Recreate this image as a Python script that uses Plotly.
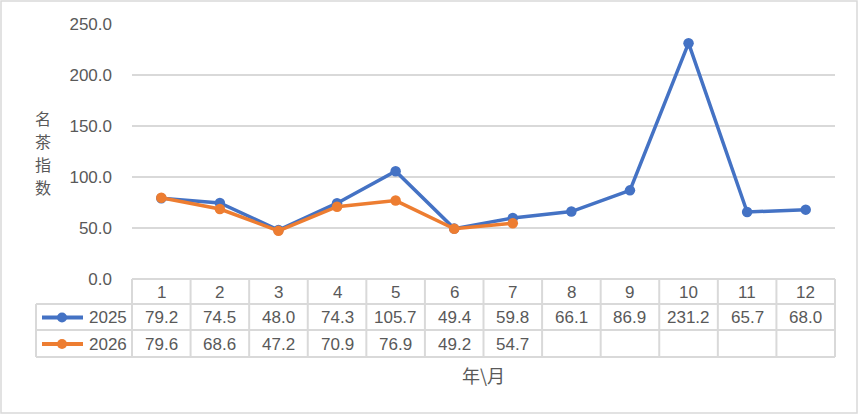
import plotly.graph_objects as go

months = [str(m) for m in range(1, 13)]
series_names = ["2025", "2026"]
values_2025 = [79.2, 74.5, 48.0, 74.3, 105.7, 49.4, 59.8, 66.1, 86.9, 231.2, 65.7, 68.0]
values_2026 = [79.6, 68.6, 47.2, 70.9, 76.9, 49.2, 54.7]
y_ticks = [0, 50, 100, 150, 200, 250]
y_title = "名茶指数"
x_title = "年\\月"

colors = ["#4472C4", "#ED7D31"]
grid = "#D9D9D9"
text_col = "#595959"
font_main = "Liberation Sans, Arial, sans-serif"
font_cjk = "Noto Sans CJK SC, sans-serif"

W, H = 859, 415
L, R, T, B = 132, 835, 24, 279  # plot area in pixels


def px(x):
    return (x - L) / (R - L)


def py(y):
    return (B - y) / (B - T)


fig = go.Figure()

for name, vals, col in zip(series_names, [values_2025, values_2026], colors):
    fig.add_trace(
        go.Scatter(
            x=list(range(1, len(vals) + 1)),
            y=vals,
            mode="lines+markers",
            name=name,
            line=dict(color=col, width=3.5),
            marker=dict(color=col, size=10.5),
        )
    )

shapes = []
annotations = []


def label(x, y, text, font, xref="paper", xanchor="center"):
    annotations.append(dict(x=x, y=y, xref=xref, yref="paper", text=text,
                            xanchor=xanchor, yanchor="middle", borderpad=0,
                            showarrow=False, font=font))


# table grid
rows_y = [279, 304, 330, 357]
line_style = dict(color=grid, width=2)
for y in rows_y[1:]:
    shapes.append(dict(type="line", xref="paper", yref="paper",
                       x0=px(36), x1=px(R), y0=py(y), y1=py(y), line=line_style))
shapes.append(dict(type="line", xref="paper", yref="paper",
                   x0=px(L), x1=px(R), y0=py(rows_y[0]), y1=py(rows_y[0]), line=line_style))
shapes.append(dict(type="line", xref="paper", yref="paper",
                   x0=px(36), x1=px(36), y0=py(rows_y[1]), y1=py(rows_y[3]), line=line_style))
for i in range(13):
    xb = L + (R - L) * i / 12
    shapes.append(dict(type="line", xref="paper", yref="paper",
                       x0=px(xb), x1=px(xb), y0=py(rows_y[0]), y1=py(rows_y[3]), line=line_style))

cell_font = dict(size=17, color=text_col, family=font_main)

# header row (month labels)
for i, m in enumerate(months):
    label(i + 1, py(292), m, cell_font, xref="x")

# value rows
for r, vals in enumerate([values_2025, values_2026]):
    yc = (rows_y[r + 1] + rows_y[r + 2]) / 2 + 0.5
    for i, v in enumerate(vals):
        label(i + 1, py(yc), f"{v:.1f}", cell_font, xref="x")
    # legend key
    shapes.append(dict(type="line", xref="paper", yref="paper",
                       x0=px(42), x1=px(83), y0=py(yc), y1=py(yc),
                       line=dict(color=colors[r], width=4)))
    shapes.append(dict(type="circle", xref="paper", yref="paper",
                       x0=px(57), x1=px(67), y0=py(yc + 5), y1=py(yc - 5),
                       fillcolor=colors[r], line=dict(color=colors[r], width=0)))
    label(px(128), py(yc), series_names[r], cell_font, xanchor="right")

# outer chart border
shapes.append(dict(type="rect", xref="paper", yref="paper",
                   x0=px(1), x1=px(857), y0=py(1), y1=py(413),
                   line=dict(color=grid, width=1.5)))

# axis titles (vertical stacked characters)
for k, ch in enumerate(y_title):
    label(px(43), py(118 + 23 * k), ch, dict(size=16, color=text_col, family=font_cjk))
label(px(483), py(375), x_title, dict(size=18, color=text_col, family=font_cjk))

fig.update_layout(
    width=W,
    height=H,
    margin=dict(l=L, r=W - R, t=T, b=H - B),
    paper_bgcolor="white",
    plot_bgcolor="white",
    showlegend=False,
    xaxis=dict(range=[0.5, 12.5], showgrid=False, showticklabels=False,
               zeroline=False, showline=False, fixedrange=True),
    yaxis=dict(range=[0, 250], tickvals=y_ticks, ticktext=[f"{t:.1f}" for t in y_ticks],
               showgrid=True, gridcolor=grid, gridwidth=2, zeroline=False, showline=False,
               ticklabelstandoff=19,
               tickfont=dict(size=17, color=text_col, family=font_main)),
    shapes=shapes,
    annotations=annotations,
)

fig.write_html("out.html", config={"displayModeBar": False},
               post_script="document.body.style.margin='0';")
